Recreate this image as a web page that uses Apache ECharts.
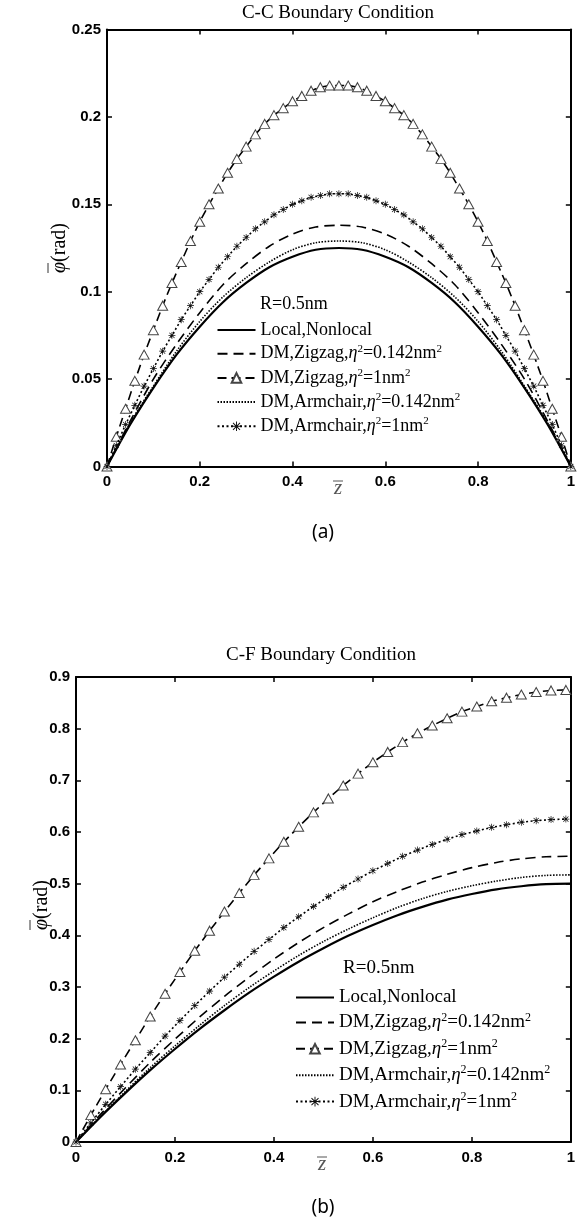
<!DOCTYPE html>
<html><head><meta charset="utf-8">
<script src="https://cdn.jsdelivr.net/npm/echarts@6/dist/echarts.min.js"></script>
<style>html,body{margin:0;padding:0;background:#fff}#c{width:578px;height:1224px}</style>
</head><body><div id="c"></div><script>
// ---------- data ----------
const zStep02 = [0,0.02,0.04,0.06,0.08,0.1,0.12,0.14,0.16,0.18,0.2,0.22,0.24,0.26,0.28,0.3,0.32,0.34,0.36,0.38,0.4,0.42,0.44,0.46,0.48,0.5,0.52,0.54,0.56,0.58,0.6,0.62,0.64,0.66,0.68,0.7,0.72,0.74,0.76,0.78,0.8,0.82,0.84,0.86,0.88,0.9,0.92,0.94,0.96,0.98,1];
const zStep05 = [0,0.05,0.1,0.15,0.2,0.25,0.3,0.35,0.4,0.45,0.5,0.55,0.6,0.65,0.7,0.75,0.8,0.85,0.9,0.95,1];
const zStep03 = [0,0.03,0.06,0.09,0.12,0.15,0.18,0.21,0.24,0.27,0.3,0.33,0.36,0.39,0.42,0.45,0.48,0.51,0.54,0.57,0.6,0.63,0.66,0.69,0.72,0.75,0.78,0.81,0.84,0.87,0.9,0.93,0.96,0.99];

const seriesNames = ['Local,Nonlocal','DM,Zigzag,η2=0.142nm2','DM,Zigzag,η2=1nm2','DM,Armchair,η2=0.142nm2','DM,Armchair,η2=1nm2'];

// (a) C-C boundary condition
const ccLocal   = [0,0.024,0.045,0.064,0.080,0.094,0.105,0.114,0.120,0.124,0.125,0.124,0.120,0.114,0.105,0.094,0.080,0.064,0.045,0.024,0];
const ccZig142  = [0,0.026,0.050,0.070,0.088,0.104,0.116,0.126,0.133,0.137,0.138,0.137,0.133,0.126,0.116,0.104,0.088,0.070,0.050,0.026,0];
const ccArm142  = [0,0.025,0.046,0.066,0.083,0.097,0.108,0.117,0.124,0.128,0.129,0.128,0.124,0.117,0.108,0.097,0.083,0.066,0.046,0.025,0];
const ccZig1    = [0,0.017,0.033,0.049,0.064,0.078,0.092,0.105,0.117,0.129,0.140,0.150,0.159,0.168,0.176,0.183,0.190,0.196,0.201,0.205,0.209,0.212,0.215,0.217,0.218,0.218,0.218,0.217,0.215,0.212,0.209,0.205,0.201,0.196,0.190,0.183,0.176,0.168,0.159,0.150,0.140,0.129,0.117,0.105,0.092,0.078,0.064,0.049,0.033,0.017,0];
const ccArm1    = [0,0.012,0.024,0.035,0.046,0.056,0.066,0.075,0.084,0.092,0.100,0.107,0.114,0.120,0.126,0.131,0.136,0.140,0.144,0.147,0.150,0.152,0.154,0.155,0.156,0.156,0.156,0.155,0.154,0.152,0.150,0.147,0.144,0.140,0.136,0.131,0.126,0.120,0.114,0.107,0.100,0.092,0.084,0.075,0.066,0.056,0.046,0.035,0.024,0.012,0];

// (b) C-F boundary condition
const cfLocal   = [0,0.049,0.095,0.139,0.180,0.219,0.255,0.289,0.320,0.349,0.375,0.399,0.420,0.439,0.455,0.469,0.480,0.489,0.495,0.499,0.500];
const cfZig142  = [0,0.054,0.105,0.154,0.199,0.242,0.282,0.319,0.354,0.386,0.415,0.441,0.465,0.485,0.503,0.518,0.531,0.541,0.548,0.552,0.553];
const cfArm142  = [0,0.050,0.098,0.144,0.186,0.226,0.264,0.299,0.331,0.361,0.388,0.412,0.434,0.454,0.471,0.485,0.496,0.505,0.512,0.516,0.517];
const cfZig1    = [0,0.052,0.102,0.150,0.197,0.243,0.287,0.329,0.370,0.409,0.446,0.482,0.517,0.549,0.581,0.610,0.638,0.665,0.690,0.713,0.735,0.755,0.774,0.791,0.806,0.820,0.833,0.843,0.853,0.860,0.866,0.871,0.874,0.875];
const cfArm1    = [0,0.037,0.073,0.107,0.141,0.173,0.205,0.235,0.264,0.292,0.319,0.344,0.369,0.392,0.415,0.436,0.456,0.475,0.493,0.509,0.525,0.539,0.553,0.565,0.576,0.586,0.595,0.602,0.609,0.614,0.619,0.622,0.624,0.625];

// ---------- styling ----------
const SERIF = "'Liberation Serif','Times New Roman',serif";
const SANS = "'Liberation Sans',Arial,sans-serif";
const STAR = 'path://M9,0H11V20H9Z M0,9H20V11H0Z M2,3.4L3.4,2L18,16.6L16.6,18Z M16.6,2L18,3.4L3.4,18L2,16.6Z';

const styles = [
  {lineStyle:{color:'#000',width:2.2,type:'solid'}, symbol:'none'},
  {lineStyle:{color:'#000',width:1.6,type:[10,6]}, symbol:'none'},
  {lineStyle:{color:'#000',width:1.6,type:[9,5]}, symbol:'triangle', symbolSize:[10,9],
   itemStyle:{color:'#fff',borderColor:'#444',borderWidth:1}},
  {lineStyle:{color:'#000',width:1.6,type:[1.5,1.5]}, symbol:'none'},
  {lineStyle:{color:'#000',width:1.6,type:[2,2.5]}, symbol:STAR, symbolSize:7,
   itemStyle:{color:'#111',borderWidth:0}}
];

function mk(name, xs, ys, idx, gi){
  const st = styles[idx];
  return Object.assign({
    type:'line', name:name, xAxisIndex:gi*2, yAxisIndex:gi*2,
    data: xs.map((x,i)=>[x, ys[i]]),
    smooth: st.symbol==='none' ? 0.3 : false,
    showSymbol: st.symbol!=='none', animation:false, z: 2+idx
  }, st);
}

function axisPair(gi, isX, max, interval, fs){
  const common = {
    type:'value', gridIndex:gi, min:0, max:max, interval:interval,
    axisLine:{show:true,onZero:false,lineStyle:{color:'#000',width:2}},
    axisTick:{show:true,inside:true,length:5,lineStyle:{color:'#000',width:1.5}},
    splitLine:{show:false}
  };
  const main = Object.assign({}, common, {
    position: isX ? 'bottom':'left',
    axisLabel:{show:true,color:'#000',fontFamily:SANS,fontWeight:'bold',fontSize:fs,margin:isX?8:6}
  });
  const mirror = Object.assign({}, common, {position: isX ? 'top':'right', axisLabel:{show:false}});
  return [main, mirror];
}

const legendLabel = {
  'Local,Nonlocal':'{n|Local,Nonlocal}',
  'DM,Zigzag,η2=0.142nm2':'{n|DM,Zigzag,}{i|η}{s|2}{n|=0.142nm}{s|2}',
  'DM,Zigzag,η2=1nm2':'{n|DM,Zigzag,}{i|η}{s|2}{n|=1nm}{s|2}',
  'DM,Armchair,η2=0.142nm2':'{n|DM,Armchair,}{i|η}{s|2}{n|=0.142nm}{s|2}',
  'DM,Armchair,η2=1nm2':'{n|DM,Armchair,}{i|η}{s|2}{n|=1nm}{s|2}'
};
function richFor(fs){
  const lh = fs + 3;
  return {
    n:{fontFamily:SERIF,fontSize:fs,color:'#000',lineHeight:lh},
    i:{fontFamily:SERIF,fontSize:fs,fontStyle:'italic',color:'#000',lineHeight:lh},
    s:{fontFamily:SERIF,fontSize:Math.round(fs*0.63),color:'#000',lineHeight:lh,verticalAlign:'top',padding:[0,0,Math.round(fs*0.5),0]}
  };
}
function legendData(){
  return seriesNames.map((n,i)=> styles[i].symbol==='none'
    ? {name:n, itemStyle:{color:'rgba(0,0,0,0)',borderColor:'rgba(0,0,0,0)',opacity:0}}
    : {name:n});
}

const xa = axisPair(0,true,1,0.2,15), xb = axisPair(1,true,1,0.2,15);
const ya = axisPair(0,false,0.25,0.05,15), yb = axisPair(1,false,0.9,0.1,15);

function yName(cx, cy){
  return {type:'group', x:cx, y:cy, rotation:Math.PI/2, children:[
    {type:'text', x:0, y:0, style:{text:'{i|φ}{n|(rad)}', textAlign:'center', textVerticalAlign:'middle',
      rich:{i:{fontFamily:SERIF,fontStyle:'italic',fontSize:20,color:'#333'},n:{fontFamily:SERIF,fontSize:20,color:'#333'}}}},
    {type:'line', shape:{x1:-25,y1:-12,x2:-15,y2:-12}, style:{stroke:'#333',lineWidth:1}}
  ]};
}
function xName(cx, cy){
  return {type:'group', x:cx, y:cy, children:[
    {type:'text', x:0, y:0, style:{text:'z', font:'italic 21px '+SERIF, fill:'#555', textAlign:'center', textVerticalAlign:'middle'}},
    {type:'line', shape:{x1:-5,y1:-7,x2:5,y2:-7}, style:{stroke:'#555',lineWidth:1}}
  ]};
}

const option = {
  backgroundColor:'#fff', animation:false,
  grid:[
    {left:107, top:29.5, width:465.5, height:437, containLabel:false},
    {left:76, top:677, width:500, height:465, containLabel:false}
  ],
  xAxis:[xa[0],xa[1],xb[0],xb[1]],
  yAxis:[ya[0],ya[1],yb[0],yb[1]],
  legend:[
    {orient:'vertical', left:216.5, top:321, padding:0, itemWidth:38, itemHeight:12, itemGap:4.2,
     selectedMode:false, data:legendData(), formatter:n=>legendLabel[n], textStyle:{rich:richFor(18)}},
    {orient:'vertical', left:295, top:988, padding:0, itemWidth:38, itemHeight:12, itemGap:4.4,
     selectedMode:false, data:legendData(), formatter:n=>legendLabel[n], textStyle:{rich:richFor(19)}}
  ],
  graphic:[
    {type:'text', x:338, y:13, style:{text:'C-C Boundary Condition', font:'19px '+SERIF, fill:'#000', textAlign:'center', textVerticalAlign:'middle'}},
    {type:'text', x:321, y:655, style:{text:'C-F Boundary Condition', font:'19px '+SERIF, fill:'#000', textAlign:'center', textVerticalAlign:'middle'}},
    {type:'text', x:260, y:304, style:{text:'R=0.5nm', font:'18px '+SERIF, fill:'#000', textAlign:'left', textVerticalAlign:'middle'}},
    {type:'text', x:343, y:968, style:{text:'R=0.5nm', font:'19px '+SERIF, fill:'#000', textAlign:'left', textVerticalAlign:'middle'}},
    {type:'text', x:323, y:533, style:{text:'(a)', font:"19px 'Noto Sans',sans-serif", fill:'#000', textAlign:'center', textVerticalAlign:'middle'}},
    {type:'text', x:323, y:1208, style:{text:'(b)', font:"19px 'Noto Sans',sans-serif", fill:'#000', textAlign:'center', textVerticalAlign:'middle'}},
    yName(60, 248), yName(42, 905),
    xName(338, 488), xName(322, 1164)
  ],
  series:[
    mk(seriesNames[0], zStep05, ccLocal, 0, 0),
    mk(seriesNames[1], zStep05, ccZig142, 1, 0),
    mk(seriesNames[2], zStep02, ccZig1, 2, 0),
    mk(seriesNames[3], zStep05, ccArm142, 3, 0),
    mk(seriesNames[4], zStep02, ccArm1, 4, 0),
    mk(seriesNames[0], zStep05, cfLocal, 0, 1),
    mk(seriesNames[1], zStep05, cfZig142, 1, 1),
    mk(seriesNames[2], zStep03, cfZig1, 2, 1),
    mk(seriesNames[3], zStep05, cfArm142, 3, 1),
    mk(seriesNames[4], zStep03, cfArm1, 4, 1)
  ]
};
const chart = echarts.init(document.getElementById('c'), null, {renderer:'canvas'});
chart.setOption(option);
</script></body></html>
